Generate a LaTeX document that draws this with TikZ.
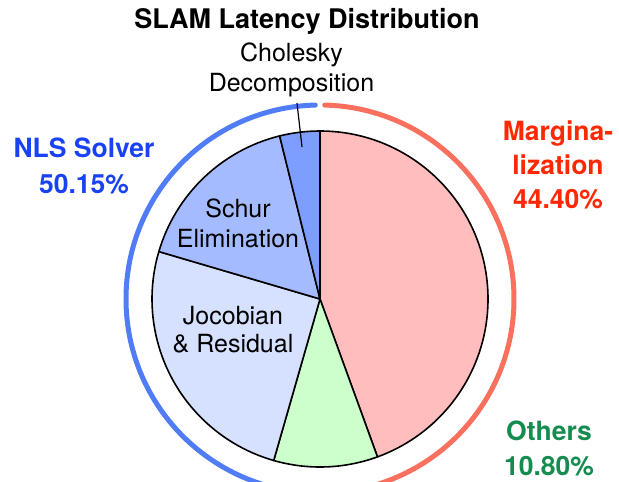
\documentclass[tikz,border=0pt]{standalone}
\usepackage{fontspec}
\setmainfont{TeX Gyre Heros}
\definecolor{margfill}{RGB}{255,189,189}
\definecolor{othfill}{RGB}{204,255,204}
\definecolor{jacfill}{RGB}{214,224,255}
\definecolor{schfill}{RGB}{165,187,255}
\definecolor{cholfill}{RGB}{126,158,255}
\definecolor{ringblue}{RGB}{80,125,245}
\definecolor{ringred}{RGB}{250,112,95}
\definecolor{txtblue}{RGB}{25,65,245}
\definecolor{txtred}{RGB}{255,40,0}
\definecolor{txtgreen}{RGB}{20,140,80}
\begin{document}
\begin{tikzpicture}[x=1pt,y=-1pt,
  slice/.style={draw=black,line width=1.6pt,line join=round},
  ring/.style={line width=5pt,line cap=round},
  inlabel/.style={font=\fontsize{25}{30}\selectfont,align=center,inner sep=0pt},
  outlabel/.style={font=\bfseries\fontsize{26.5}{35}\selectfont,align=center,inner sep=0pt}]
\useasboundingbox (0,0) rectangle (619,482);
\coordinate (c) at (320,299);
\def\R{168}
% slices (angles measured counter-clockwise, y axis flipped so use negatives)
\filldraw[slice,fill=margfill] (c) -- ++(-90:\R) arc[start angle=-90,end angle=70,radius=\R] -- cycle;
\filldraw[slice,fill=othfill] (c) -- ++(70:\R) arc[start angle=70,end angle=106,radius=\R] -- cycle;
\filldraw[slice,fill=jacfill] (c) -- ++(106:\R) arc[start angle=106,end angle=196.4,radius=\R] -- cycle;
\filldraw[slice,fill=schfill] (c) -- ++(196.4:\R) arc[start angle=196.4,end angle=256.1,radius=\R] -- cycle;
\filldraw[slice,fill=cholfill] (c) -- ++(256.1:\R) arc[start angle=256.1,end angle=270,radius=\R] -- cycle;
% outer rings
\draw[ring,ringblue] (c) ++(268.6:194) arc[start angle=268.6,end angle=91.5,radius=194];
\draw[ring,ringred] (c) ++(-88.6:194) arc[start angle=-88.6,end angle=88.5,radius=194];
% labels
\node[font=\bfseries\fontsize{27}{30}\selectfont,anchor=base,inner sep=0pt] (title) at (307,28) {SLAM Latency Distribution};
\node[inlabel] (chol) at (291.5,70) {Cholesky\\Decomposition};
\coordinate (cholpt) at (302,147);
\draw[line width=1.2pt] (cholpt) -- (297,103) coordinate (cholend);
\node[inlabel] (schur) at (238,223) {Schur\\Elimination};
\node[inlabel,font=\fontsize{25}{28}\selectfont] (jac) at (233,330) {Jocobian\\\& Residual};
\node[outlabel,text=txtblue,font=\bfseries\fontsize{26.5}{36}\selectfont] (nls) at (84,166) {NLS Solver\\50.15\%};
\node[outlabel,text=txtred,font=\bfseries\fontsize{26.5}{34}\selectfont] (marg) at (558,165) {Margina-\\lization\\44.40\%};
\node[outlabel,text=txtgreen] (oth) at (549,448) {Others\\10.80\%};
\end{tikzpicture}
\end{document}
